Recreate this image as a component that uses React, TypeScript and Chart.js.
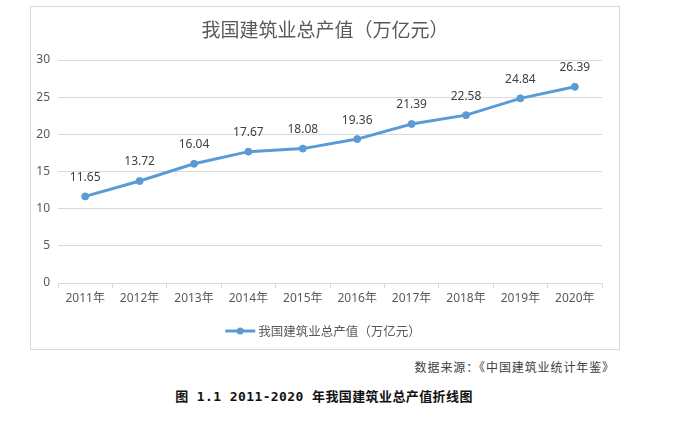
import React, { useEffect, useRef } from "react";
import { Chart, registerables } from "chart.js";

Chart.register(...registerables);

const chartTitle = "我国建筑业总产值（万亿元）";
const seriesName = "我国建筑业总产值（万亿元）";
const categories = ["2011年", "2012年", "2013年", "2014年", "2015年", "2016年", "2017年", "2018年", "2019年", "2020年"];
const values = [11.65, 13.72, 16.04, 17.67, 18.08, 19.36, 21.39, 22.58, 24.84, 26.39];
const yMin = 0;
const yMax = 30;
const yStep = 5;
const sourceNote = "数据来源：《中国建筑业统计年鉴》";
const caption = "图 1.1 2011-2020 年我国建筑业总产值折线图";

const LINE_COLOR = "#5b9bd5";
const TEXT_GRAY = "#595959";
const GRID = "#d9d9d9";
const FONT = "'Noto Sans', 'Noto Sans CJK SC', sans-serif";

const CW = 588;
const CH = 342;

const extrasPlugin = {
  id: "extras",
  afterDatasetsDraw(chart: any) {
    const ctx = chart.ctx;
    const meta = chart.getDatasetMeta(0);
    ctx.save();
    ctx.fillStyle = "#404040";
    ctx.font = `12px ${FONT}`;
    ctx.textAlign = "center";
    ctx.textBaseline = "middle";
    meta.data.forEach((pt: any, i: number) => {
      ctx.fillText(values[i].toFixed(2), pt.x, pt.y - 19);
    });
    ctx.restore();
  },
  afterDraw(chart: any) {
    const ctx = chart.ctx;
    ctx.save();
    // title
    ctx.fillStyle = TEXT_GRAY;
    ctx.font = `19px 'Noto Sans CJK SC', sans-serif`;
    ctx.textAlign = "center";
    ctx.textBaseline = "middle";
    ctx.fillText(chartTitle, chart.width / 2, 23);
    // legend
    ctx.font = `12.5px 'Noto Sans CJK SC', sans-serif`;
    const tw = ctx.measureText(seriesName).width;
    const lineW = 30;
    const gap = 3;
    const total = lineW + gap + tw;
    const x0 = chart.width / 2 - total / 2 - 2;
    const y0 = 324;
    ctx.strokeStyle = LINE_COLOR;
    ctx.lineWidth = 3;
    ctx.beginPath();
    ctx.moveTo(x0, y0);
    ctx.lineTo(x0 + lineW, y0);
    ctx.stroke();
    ctx.fillStyle = LINE_COLOR;
    ctx.beginPath();
    ctx.arc(x0 + lineW / 2, y0, 3.5, 0, Math.PI * 2);
    ctx.fill();
    ctx.fillStyle = TEXT_GRAY;
    ctx.textAlign = "left";
    ctx.fillText(seriesName, x0 + lineW + gap, y0);
    ctx.restore();
  },
};

export default function App() {
  const canvasRef = useRef<HTMLCanvasElement | null>(null);

  useEffect(() => {
    if (!canvasRef.current) return;
    const chart = new Chart(canvasRef.current, {
      type: "line",
      data: {
        labels: categories,
        datasets: [
          {
            label: seriesName,
            data: values,
            borderColor: LINE_COLOR,
            backgroundColor: LINE_COLOR,
            borderWidth: 3,
            pointRadius: 3.5,
            pointBackgroundColor: LINE_COLOR,
            pointBorderColor: LINE_COLOR,
            pointBorderWidth: 1,
            tension: 0,
          },
        ],
      },
      options: {
        responsive: false,
        animation: false,
        devicePixelRatio: 1,
        layout: { padding: { top: 53, right: 17, left: 0, bottom: 0 } },
        plugins: {
          legend: { display: false },
          title: { display: false },
          tooltip: { enabled: false },
        },
        scales: {
          x: {
            type: "category",
            offset: true,
            grid: {
              offset: true,
              drawOnChartArea: false,
              drawTicks: true,
              tickLength: 5,
              color: GRID,
            },
            border: { display: true, color: GRID, width: 1 },
            ticks: {
              color: TEXT_GRAY,
              font: { size: 12, family: FONT },
              padding: 3,
              maxRotation: 0,
              autoSkip: false,
            },
            afterFit: (scale: any) => {
              scale.height = 66;
            },
          },
          y: {
            min: yMin,
            max: yMax,
            ticks: {
              stepSize: yStep,
              color: TEXT_GRAY,
              font: { size: 12, family: FONT },
              padding: 8,
            },
            grid: { color: GRID, drawTicks: false, lineWidth: 1 },
            border: { display: false },
            afterFit: (scale: any) => {
              scale.width = 27;
            },
          },
        },
      },
      plugins: [extrasPlugin],
    });
    return () => chart.destroy();
  }, []);

  return (
    <div style={{ position: "absolute", left: 0, top: 0, width: 675, height: 421, background: "#fff" }}>
      <div
        style={{
          position: "absolute",
          left: 30,
          top: 6,
          width: 590,
          height: 344,
          boxSizing: "border-box",
          border: `1px solid ${GRID}`,
          background: "#fff",
        }}
      >
        <canvas ref={canvasRef} width={CW} height={CH} style={{ display: "block", width: CW, height: CH }} />
      </div>
      <div
        style={{
          position: "absolute",
          right: 60,
          top: 358,
          fontFamily: "'Noto Sans CJK SC', sans-serif",
          fontSize: 12,
          letterSpacing: 0.9,
          color: "#404040",
          whiteSpace: "nowrap",
          lineHeight: "18px",
        }}
      >
        {sourceNote}
      </div>
      <div
        style={{
          position: "absolute",
          left: 0,
          width: 648,
          top: 387,
          textAlign: "center",
          fontFamily: "'DejaVu Sans Mono', 'Noto Sans CJK SC', monospace",
          fontSize: 13,
          fontWeight: 600,
          letterSpacing: 0.4,
          color: "#111",
          whiteSpace: "pre",
          lineHeight: "20px",
        }}
      >
        {caption}
      </div>
    </div>
  );
}
